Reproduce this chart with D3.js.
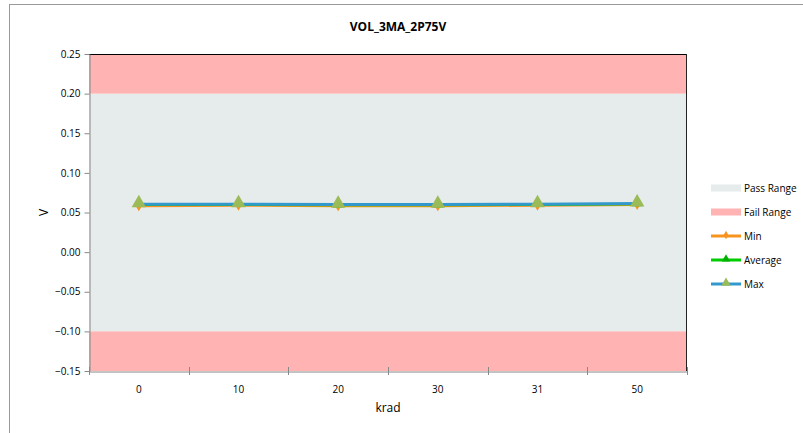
<!DOCTYPE html>
<html>
<head>
<meta charset="utf-8">
<script src="https://cdn.jsdelivr.net/npm/d3@7"></script>
<style>
  body { margin: 0; background: #fff; }
  svg text { font-family: "Open Sans", "Noto Sans", sans-serif; }
</style>
</head>
<body>
<svg id="chart" width="803" height="433"></svg>
<script>
const categories = ['0', '10', '20', '30', '31', '50'];
const minValues = [0.0580, 0.0585, 0.0580, 0.0580, 0.0585, 0.0595];
const avgValues = [0.0595, 0.0595, 0.0590, 0.0590, 0.0595, 0.0605];
const maxValues = [0.0605, 0.0605, 0.0600, 0.0600, 0.0605, 0.0615];
const passRange = [-0.10, 0.20];
const failRanges = [[0.20, 0.25], [-0.15, -0.10]];
const yTicks = [-0.15, -0.10, -0.05, 0.00, 0.05, 0.10, 0.15, 0.20, 0.25];
const title = 'VOL_3MA_2P75V';

const svg = d3.select('#chart');
const margin = { top: 54, left: 89, right: 116, bottom: 62 };
const width = 803 - margin.left - margin.right;
const height = 433 - margin.top - margin.bottom;

// outer border
svg.append('rect')
    .attr('x', 9.5).attr('y', 4.5)
    .attr('width', 800).attr('height', 440)
    .attr('fill', 'none').attr('stroke', '#999');

svg.append('text')
    .attr('x', 398).attr('y', 31)
    .attr('text-anchor', 'middle')
    .style('font-size', '12px').style('font-weight', 'bold')
    .text(title);

const g = svg.append('g').attr('transform', `translate(${margin.left},${margin.top})`);

const x = d3.scaleBand().domain(categories).range([0, width]);
const y = d3.scaleLinear().domain([-0.15, 0.25]).range([height, 0]);

// bands
g.append('rect')
    .attr('x', 0).attr('width', width)
    .attr('y', y(passRange[1])).attr('height', y(passRange[0]) - y(passRange[1]))
    .attr('fill', '#E6EBEB');
failRanges.forEach(r => {
    g.append('rect')
        .attr('x', 0).attr('width', width)
        .attr('y', y(r[1])).attr('height', y(r[0]) - y(r[1]))
        .attr('fill', '#FFB3B3');
});

// top / right frame
g.append('line').attr('x1', 0).attr('x2', width).attr('y1', 0.5).attr('y2', 0.5).attr('stroke', '#000');
g.append('line').attr('x1', width - 0.5).attr('x2', width - 0.5).attr('y1', 0).attr('y2', height).attr('stroke', '#222');

// y axis
const yAxis = g.append('g')
    .attr('transform', 'translate(0.5,0)')
    .call(d3.axisLeft(y).tickValues(yTicks).tickFormat(d3.format('.2f')).tickSize(5).tickSizeOuter(0));
yAxis.select('.domain').attr('stroke', '#888');
yAxis.selectAll('.tick line').attr('stroke', '#888');
yAxis.selectAll('.tick text').attr('x', -9).style('font-size', '10px').attr('fill', '#000');

// x axis
const xAxis = g.append('g')
    .attr('transform', `translate(0,${height + 0.5})`)
    .call(d3.axisBottom(x).tickSize(0).tickSizeOuter(0));
xAxis.select('.domain').attr('stroke', '#888');
xAxis.selectAll('.tick text').attr('y', 14).style('font-size', '10px').attr('fill', '#000');
// boundary ticks between categories
const bounds = categories.map(c => x(c)).concat([width]);
g.selectAll('.xb').data(bounds).enter().append('line')
    .attr('x1', d => Math.round(d) + 0.5).attr('x2', d => Math.round(d) + 0.5)
    .attr('y1', height - 4).attr('y2', height + 4)
    .attr('stroke', '#888');

svg.append('text')
    .attr('x', margin.left + width / 2).attr('y', 412)
    .attr('text-anchor', 'middle')
    .style('font-size', '12px')
    .text('krad');

svg.append('text')
    .attr('transform', `translate(48,${margin.top + y(0.05)}) rotate(-90)`)
    .attr('text-anchor', 'middle')
    .style('font-size', '12px')
    .text('V');

const cx = c => x(c) + x.bandwidth() / 2;
const series = [
    { name: 'Min', values: minValues, color: '#F7941D', marker: 'diamond', mcolor: '#F7941D' },
    { name: 'Average', values: avgValues, color: '#00CC00', marker: 'triangle', mcolor: '#00B000' },
    { name: 'Max', values: maxValues, color: '#3399CC', marker: 'triangle', mcolor: '#9BBB59' }
];

const line = d3.line().x((d, i) => cx(categories[i])).y(d => y(d));
series.forEach(s => {
    g.append('path')
        .datum(s.values)
        .attr('fill', 'none')
        .attr('stroke', s.color)
        .attr('stroke-width', s.name === 'Max' ? 3 : 2)
        .attr('d', line);
});
series.forEach(s => {
    const sym = d3.symbol().type(s.marker === 'diamond' ? d3.symbolDiamond : d3.symbolTriangle)
        .size(s.marker === 'diamond' ? 30 : (s.name === 'Max' ? 90 : 50));
    g.selectAll('.m-' + s.name).data(s.values).enter().append('path')
        .attr('d', sym)
        .attr('transform', (d, i) => `translate(${cx(categories[i])},${y(d) - (s.marker === 'triangle' ? 1 : 0)})`)
        .attr('fill', s.mcolor);
});

// legend
const legend = svg.append('g').attr('transform', 'translate(711,0)');
const legendRows = [
    { label: 'Pass Range', type: 'rect', color: '#E6EBEB' },
    { label: 'Fail Range', type: 'rect', color: '#FFB3B3' },
    { label: 'Min', type: 'line', color: '#F7941D', marker: d3.symbolDiamond, mcolor: '#F7941D', size: 20 },
    { label: 'Average', type: 'line', color: '#00CC00', marker: d3.symbolTriangle, mcolor: '#00B000', size: 30 },
    { label: 'Max', type: 'line', color: '#3399CC', marker: d3.symbolTriangle, mcolor: '#9BBB59', size: 40 }
];
legendRows.forEach((r, i) => {
    const yy = 188 + i * 24;
    if (r.type === 'rect') {
        legend.append('rect').attr('x', 0).attr('y', yy - 3.5).attr('width', 30).attr('height', 7).attr('fill', r.color);
    } else {
        legend.append('line').attr('x1', 0).attr('x2', 30).attr('y1', yy).attr('y2', yy)
            .attr('stroke', r.color).attr('stroke-width', 3);
        legend.append('path').attr('d', d3.symbol().type(r.marker).size(r.size)())
            .attr('transform', `translate(15,${yy - 1})`).attr('fill', r.mcolor);
    }
    legend.append('text').attr('x', 33).attr('y', yy + 3.5)
        .style('font-size', '10px').text(r.label);
});
</script>
</body>
</html>
